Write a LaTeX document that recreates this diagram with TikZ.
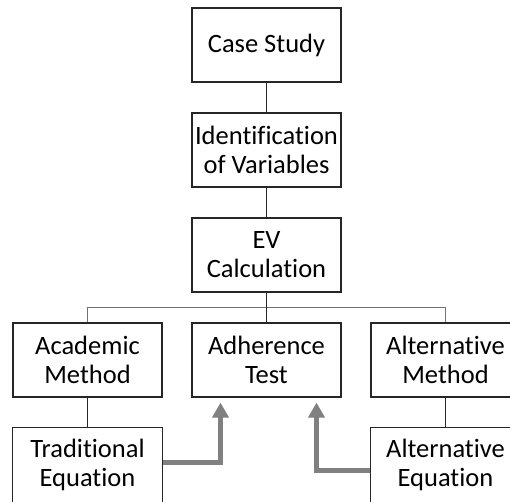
\documentclass[tikz,border=0pt]{standalone}
\usepackage{fontspec}
\setmainfont{Carlito}[Ligatures=CommonOff]
\usepackage{tikz}
\usetikzlibrary{
  positioning,
  arrows.meta
}
\tikzset{
  node distance=105pt,
  box/.style={draw=black!85, line width=1.2pt, fill=white, minimum width=149pt,
    minimum height=74pt, inner sep=0pt, align=center,
    font=\fontsize{26.5pt}{29pt}\selectfont},
  openbox/.style={box, draw=none},
  link/.style={draw=black!85, line width=1.2pt},
  bus/.style={draw=black!55, line width=1.2pt},
  flow/.style={draw=gray, line width=5pt, -{Triangle[width=16pt,length=15pt]}}
}

\begin{document}
\begin{tikzpicture}
    \useasboundingbox (0,0) rectangle (510pt,501pt);
    \clip (0,0) rectangle (510pt,501pt);
    \node[box] (cs) at (266.5pt,456pt) {Case Study};
    \node[box, below of=cs] (iv) {Identification\\of Variables};
    \node[box, below of=iv] (ev) {EV\\Calculation};
    \node[box, below of=ev] (at) {Adherence\\Test};
    \node[box, node distance=179pt, left of=at] (am) {Academic\\Method};
    \node[box, node distance=179pt, right of=at] (alm) {Alternative\\Method};
    % bottom row runs off the page
    \node[openbox, below of=am] (te) {Traditional\\Equation};
    \node[openbox, below of=alm] (ae) {Alternative\\Equation};
    \draw[link] ([yshift=-12pt]te.south west) |- (te.north east) -- ([yshift=-12pt]te.south east);
    \draw[link] ([yshift=-12pt]ae.south west) |- (ae.north east) -- ([yshift=-12pt]ae.south east);
    \draw[link] (cs) -- (iv);
    \draw[link] (iv) -- (ev);
    \draw[bus] (am.north) |- ([yshift=15pt]at.north) -| (alm.north);
    \draw[link] (ev) -- (at);
    \draw[link] (am) -- (te);
    \draw[link] (alm) -- (ae);
    \draw[flow] ([yshift=2.5pt]te.east) -| ([xshift=-46pt,yshift=-5pt]at.south);
    \draw[flow] ([yshift=-5pt]ae.west) -| ([xshift=50pt,yshift=-5pt]at.south);
  \end{tikzpicture}
\end{document}
